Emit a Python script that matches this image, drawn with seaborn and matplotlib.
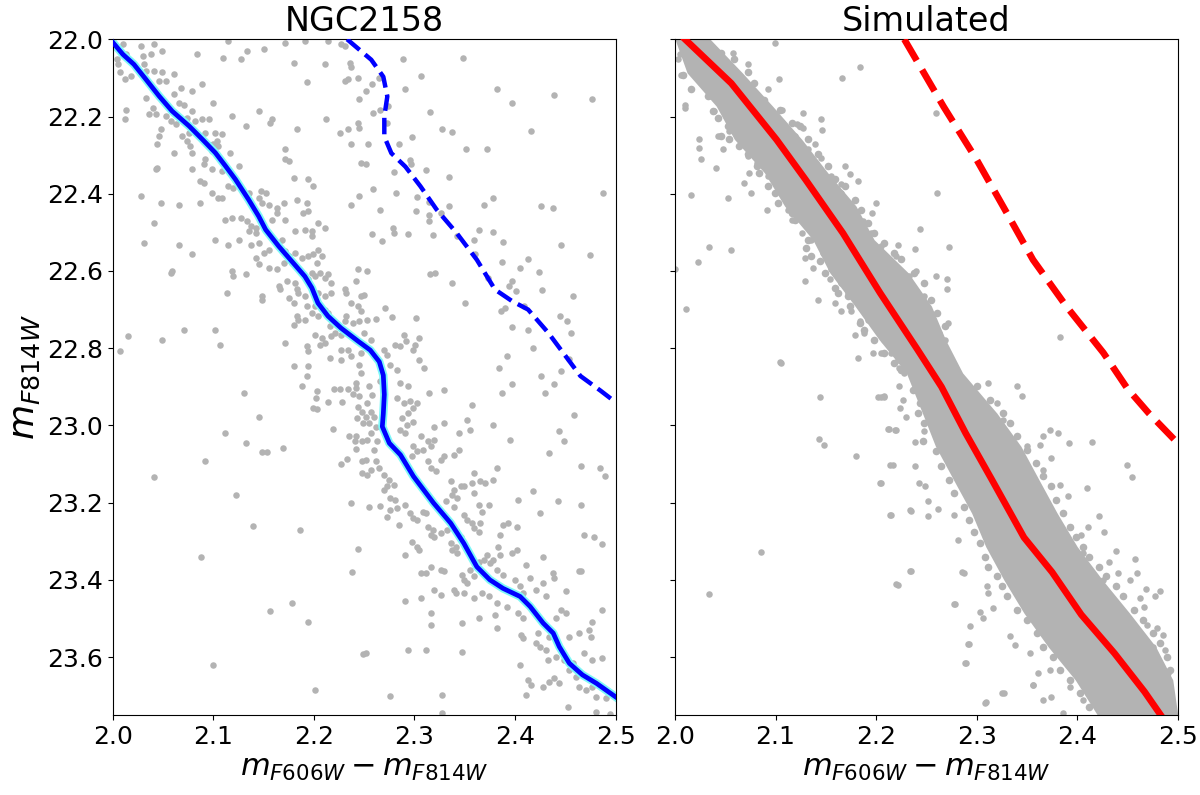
import matplotlib
matplotlib.use("Agg")
import matplotlib.pyplot as plt
import seaborn as sns

# ---------------- data ----------------
panel_titles = ["NGC2158", "Simulated"]
x_ticks = [2.0, 2.1, 2.2, 2.3, 2.4, 2.5]
y_ticks = [22.0, 22.2, 22.4, 22.6, 22.8, 23.0, 23.2, 23.4, 23.6]
x_label = "$m_{F606W} - m_{F814W}$"
y_label = "$m_{F814W}$"

# NGC2158 fiducial line (solid) and binary sequence (dashed)
ngc_ridge_x = [2.000, 2.010, 2.021, 2.033, 2.046, 2.059, 2.076, 2.089, 2.102, 2.112, 2.122, 2.135,
               2.145, 2.152, 2.165, 2.178, 2.191, 2.198, 2.204, 2.214, 2.227, 2.244, 2.256, 2.265,
               2.269, 2.270, 2.269, 2.268, 2.275, 2.286, 2.299, 2.319, 2.336, 2.349, 2.362, 2.375,
               2.388, 2.405, 2.415, 2.428, 2.438, 2.444, 2.454, 2.467, 2.481, 2.500]
ngc_ridge_y = [22.008, 22.039, 22.065, 22.104, 22.147, 22.186, 22.225, 22.259, 22.294, 22.328, 22.363, 22.415,
               22.458, 22.493, 22.536, 22.575, 22.614, 22.644, 22.683, 22.717, 22.748, 22.782, 22.805, 22.835,
               22.870, 22.920, 22.970, 23.003, 23.046, 23.076, 23.132, 23.201, 23.253, 23.305, 23.366, 23.400,
               23.422, 23.443, 23.469, 23.512, 23.538, 23.573, 23.616, 23.646, 23.668, 23.703]
ngc_binary_x = [2.233, 2.257, 2.269, 2.273, 2.270, 2.270, 2.277, 2.291, 2.306, 2.322, 2.342, 2.362,
                2.380, 2.397, 2.413, 2.433, 2.453, 2.465, 2.485, 2.500]
ngc_binary_y = [22.000, 22.053, 22.097, 22.148, 22.200, 22.252, 22.295, 22.330, 22.381, 22.441, 22.502, 22.571,
                22.648, 22.678, 22.700, 22.760, 22.830, 22.872, 22.910, 22.940]

# Simulated fiducial line and binary sequence
sim_ridge_x = [2.010, 2.056, 2.101, 2.130, 2.167, 2.204, 2.241, 2.265, 2.289, 2.315, 2.347, 2.375,
               2.404, 2.437, 2.467, 2.483]
sim_ridge_y = [22.000, 22.114, 22.260, 22.364, 22.502, 22.657, 22.803, 22.900, 23.020, 23.140, 23.290, 23.380,
               23.490, 23.590, 23.690, 23.750]
sim_binary_x = [2.228, 2.267, 2.300, 2.330, 2.356, 2.389, 2.426, 2.450, 2.471, 2.500]
sim_binary_y = [22.000, 22.174, 22.312, 22.450, 22.571, 22.691, 22.812, 22.905, 22.968, 23.046]

# NGC2158 observed stars
ngc_x = [
    2.010, 2.028, 2.041, 2.013, 2.004, 2.030, 2.038, 2.049, 2.084, 2.110, 2.127, 2.133, 2.150, 2.171, 2.180,
    2.211, 2.231, 2.236, 2.237, 2.115, 2.191, 2.214, 2.227, 2.007, 2.005, 2.012, 2.018, 2.031, 2.033, 2.041,
    2.049, 2.061, 2.053, 2.046, 2.068, 2.079, 2.089, 2.061, 2.033, 2.040, 2.066, 2.071, 2.079, 2.100, 2.013,
    2.012, 2.036, 2.043, 2.053, 2.058, 2.063, 2.074, 2.082, 2.089, 2.096, 2.119, 2.145, 2.158, 2.156, 2.132,
    2.183, 2.212, 2.226, 2.234, 2.244, 2.245, 2.237, 2.193, 2.231, 2.234, 2.244, 2.245, 2.048, 2.046, 2.044,
    2.069, 2.076, 2.074, 2.077, 2.079, 2.061, 2.092, 2.102, 2.109, 2.100, 2.104, 2.105, 2.099, 2.117, 2.171,
    2.171, 2.175, 2.092, 2.091, 2.099, 2.079, 2.044, 2.043, 2.109, 2.125, 2.180, 2.194, 2.199, 2.247, 2.087,
    2.091, 2.115, 2.120, 2.099, 2.105, 2.109, 2.135, 2.147, 2.152, 2.145, 2.148, 2.155, 2.163, 2.170, 2.183,
    2.193, 2.189, 2.194, 2.237, 2.245, 2.028, 2.048, 2.066, 2.087, 2.112, 2.119, 2.127, 2.133, 2.137, 2.142,
    2.135, 2.142, 2.158, 2.163, 2.171, 2.181, 2.191, 2.198, 2.198, 2.204, 2.211, 2.041, 2.031, 2.066, 2.079,
    2.102, 2.115, 2.125, 2.137, 2.145, 2.150, 2.155, 2.165, 2.168, 2.171, 2.175, 2.181, 2.188, 2.194, 2.199,
    2.204, 2.203, 2.208, 2.142, 2.145, 2.155, 2.163, 2.170, 2.178, 2.058, 2.059, 2.119, 2.132, 2.120, 2.165,
    2.166, 2.173, 2.181, 2.183, 2.184, 2.194, 2.198, 2.201, 2.206, 2.211, 2.214, 2.217, 2.217, 2.211, 2.204,
    2.191, 2.193, 2.198, 2.204, 2.231, 2.232, 2.237, 2.242, 2.244, 2.244, 2.247, 2.247, 2.114, 2.148, 2.148,
    2.175, 2.180, 2.183, 2.184, 2.180, 2.191, 2.201, 2.211, 2.214, 2.216, 2.221, 2.227, 2.231, 2.232, 2.239,
    2.245, 2.201, 2.208, 2.211, 2.206, 2.217, 2.227, 2.171, 2.193, 2.194, 2.216, 2.227, 2.234, 2.237, 2.245,
    2.247, 2.180, 2.194, 2.193, 2.247, 2.071, 2.102, 2.107, 2.049, 2.015, 2.007,
    2.289, 2.348, 2.306, 2.258, 2.252, 2.265, 2.291, 2.382, 2.397, 2.439, 2.477, 2.315, 2.259, 2.266, 2.274,
    2.273, 2.327, 2.337, 2.416, 2.298, 2.254, 2.285, 2.351, 2.372, 2.296, 2.297, 2.252, 2.280, 2.311, 2.334,
    2.487, 2.259, 2.282, 2.303, 2.314, 2.378, 2.369, 2.426, 2.438, 2.266, 2.302, 2.314, 2.326, 2.334, 2.314,
    2.258, 2.279, 2.280, 2.294, 2.268, 2.318, 2.342, 2.359, 2.364, 2.378, 2.388, 2.446, 2.475, 2.360, 2.387,
    2.405, 2.413, 2.424, 2.253, 2.315, 2.320, 2.337, 2.373, 2.394, 2.397, 2.401, 2.427, 2.458, 2.250, 2.350,
    2.386, 2.390, 2.409, 2.271, 2.253, 2.262, 2.278, 2.302, 2.445, 2.452, 2.456, 2.397, 2.413, 2.418, 2.392,
    2.384, 2.426, 2.446, 2.454, 2.250, 2.257, 2.290, 2.304, 2.281, 2.286, 2.292, 2.301, 2.299, 2.270, 2.273,
    2.276, 2.283, 2.304, 2.309,
    2.188, 2.130, 2.203, 2.202, 2.220, 2.226, 2.234, 2.242, 2.242, 2.239, 2.245, 2.214, 2.228, 2.199, 2.203,
    2.244, 2.248, 2.243, 2.249, 2.145, 2.219, 2.112, 2.132, 2.148, 2.153, 2.169, 2.235, 2.242, 2.241, 2.248,
    2.242, 2.233, 2.227, 2.248, 2.248, 2.092, 2.041, 2.123, 2.237, 2.139, 2.186, 2.244, 2.088, 2.238, 2.178,
    2.156, 2.194, 2.249, 2.100, 2.201,
    2.255, 2.258, 2.253, 2.257, 2.252, 2.260, 2.255, 2.262, 2.257, 2.253, 2.263, 2.260, 2.252, 2.262, 2.257,
    2.265, 2.270, 2.253, 2.275, 2.273, 2.280, 2.270, 2.276, 2.281, 2.255, 2.266, 2.273, 2.276, 2.283, 2.285,
    2.291, 2.291, 2.296, 2.299, 2.303, 2.308, 2.311, 2.313, 2.316, 2.319, 2.318, 2.298, 2.303, 2.304, 2.326,
    2.332, 2.336, 2.337, 2.341, 2.342, 2.346, 2.306, 2.311, 2.316, 2.326, 2.329, 2.339, 2.347, 2.349, 2.352,
    2.359, 2.355, 2.362, 2.364, 2.369, 2.372, 2.375, 2.378, 2.382, 2.385, 2.388, 2.397, 2.402, 2.400, 2.405,
    2.408, 2.415, 2.421, 2.428, 2.431, 2.438, 2.439, 2.446, 2.451, 2.441, 2.451, 2.464, 2.319, 2.326, 2.341,
    2.349, 2.359, 2.367, 2.374, 2.382, 2.392, 2.291, 2.306, 2.316, 2.316, 2.347, 2.364, 2.380, 2.382, 2.403,
    2.408, 2.406, 2.408, 2.421, 2.425, 2.431, 2.434, 2.423, 2.433, 2.441, 2.449, 2.458, 2.454, 2.464, 2.474,
    2.477, 2.486, 2.469, 2.477, 2.486, 2.476, 2.405, 2.413, 2.416, 2.428, 2.434, 2.439, 2.444, 2.454, 2.461,
    2.464, 2.471, 2.477, 2.481, 2.490, 2.411, 2.453, 2.481, 2.494, 2.490, 2.294, 2.311, 2.347, 2.252, 2.276,
    2.327, 2.327,
    2.266, 2.286, 2.294, 2.314, 2.329, 2.283, 2.290, 2.296, 2.303, 2.299, 2.294, 2.288, 2.299, 2.293, 2.286,
    2.291, 2.306, 2.313, 2.319, 2.316, 2.299, 2.303, 2.308, 2.298, 2.313, 2.316, 2.321, 2.326, 2.329, 2.339,
    2.344, 2.329, 2.319, 2.344, 2.352, 2.357, 2.355, 2.378, 2.395, 2.387, 2.397, 2.430, 2.439, 2.459, 2.444,
    2.449, 2.434, 2.382, 2.359, 2.336, 2.339, 2.346, 2.349, 2.337, 2.342, 2.331, 2.339, 2.357, 2.365, 2.370,
    2.378, 2.359, 2.364, 2.374, 2.367, 2.349, 2.352, 2.357, 2.359, 2.364, 2.365, 2.385, 2.388, 2.393, 2.402,
    2.383, 2.403, 2.418, 2.425, 2.443, 2.466, 2.466, 2.484, 2.489, 2.469, 2.479, 2.486, 2.428, 2.411, 2.466,
]
ngc_y = [
    22.013, 22.017, 22.013, 22.039, 22.052, 22.043, 22.039, 22.030, 22.039, 22.048, 22.052, 22.030, 22.026, 22.010, 22.061,
    22.065, 22.017, 22.061, 22.073, 22.004, 22.004, 22.004, 22.013, 22.086, 22.065, 22.104, 22.095, 22.065, 22.082, 22.082,
    22.086, 22.091, 22.108, 22.108, 22.125, 22.134, 22.117, 22.143, 22.151, 22.177, 22.164, 22.169, 22.186, 22.164, 22.182,
    22.207, 22.194, 22.194, 22.199, 22.212, 22.220, 22.203, 22.212, 22.207, 22.207, 22.199, 22.186, 22.207, 22.216, 22.225,
    22.233, 22.207, 22.242, 22.233, 22.216, 22.229, 22.272, 22.111, 22.108, 22.104, 22.099, 22.154, 22.233, 22.251, 22.272,
    22.251, 22.242, 22.264, 22.277, 22.294, 22.294, 22.242, 22.242, 22.246, 22.272, 22.264, 22.277, 22.290, 22.294, 22.285,
    22.311, 22.315, 22.311, 22.324, 22.337, 22.337, 22.333, 22.337, 22.341, 22.328, 22.359, 22.363, 22.380, 22.320, 22.367,
    22.372, 22.380, 22.385, 22.398, 22.411, 22.411, 22.398, 22.393, 22.398, 22.411, 22.424, 22.428, 22.436, 22.424, 22.415,
    22.424, 22.449, 22.445, 22.428, 22.406, 22.406, 22.424, 22.428, 22.424, 22.467, 22.462, 22.462, 22.471, 22.484, 22.488,
    22.497, 22.501, 22.467, 22.449, 22.467, 22.497, 22.493, 22.497, 22.510, 22.475, 22.488, 22.475, 22.527, 22.532, 22.557,
    22.519, 22.532, 22.519, 22.532, 22.527, 22.553, 22.545, 22.536, 22.519, 22.549, 22.562, 22.553, 22.566, 22.562, 22.557,
    22.545, 22.579, 22.562, 22.566, 22.583, 22.592, 22.596, 22.579, 22.579, 22.605, 22.601, 22.601, 22.609, 22.614, 22.640,
    22.648, 22.627, 22.631, 22.648, 22.657, 22.622, 22.605, 22.614, 22.605, 22.618, 22.609, 22.631, 22.657, 22.666, 22.657,
    22.666, 22.691, 22.709, 22.717, 22.648, 22.657, 22.683, 22.627, 22.596, 22.691, 22.704, 22.666, 22.657, 22.666, 22.674,
    22.670, 22.683, 22.717, 22.726, 22.739, 22.726, 22.691, 22.700, 22.709, 22.743, 22.761, 22.765, 22.730, 22.717, 22.735,
    22.730, 22.765, 22.774, 22.787, 22.791, 22.769, 22.804, 22.787, 22.795, 22.808, 22.825, 22.830, 22.804, 22.821, 22.843,
    22.864, 22.847, 22.847, 22.873, 22.812, 22.752, 22.752, 22.791, 22.778, 22.769, 22.808,
    22.052, 22.049, 22.095, 22.117, 22.134, 22.099, 22.128, 22.130, 22.164, 22.145, 22.154, 22.188, 22.192, 22.183, 22.173,
    22.216, 22.233, 22.240, 22.238, 22.252, 22.270, 22.272, 22.285, 22.285, 22.313, 22.324, 22.324, 22.344, 22.339, 22.357,
    22.398, 22.389, 22.398, 22.408, 22.422, 22.411, 22.430, 22.432, 22.437, 22.441, 22.445, 22.455, 22.449, 22.432, 22.471,
    22.503, 22.490, 22.501, 22.504, 22.522, 22.506, 22.510, 22.519, 22.495, 22.499, 22.525, 22.533, 22.559, 22.557, 22.577,
    22.592, 22.568, 22.602, 22.599, 22.608, 22.605, 22.631, 22.618, 22.640, 22.627, 22.653, 22.650, 22.666, 22.661, 22.683,
    22.704, 22.696, 22.691, 22.697, 22.726, 22.724, 22.719, 22.723, 22.717, 22.730, 22.761, 22.745, 22.754, 22.799, 22.821,
    22.851, 22.873, 22.860, 22.828, 22.761, 22.778, 22.767, 22.774, 22.791, 22.795, 22.782, 22.791, 22.804, 22.804, 22.817,
    22.843, 22.856, 22.830, 22.851,
    22.897, 22.916, 22.912, 22.929, 22.905, 22.905, 22.905, 22.890, 22.903, 22.918, 22.923, 22.939, 22.939, 22.955, 22.958,
    22.952, 22.965, 22.981, 22.994, 22.979, 23.009, 23.019, 23.046, 23.069, 23.069, 23.059, 23.027, 23.027, 23.040, 23.040,
    23.061, 23.088, 23.101, 23.091, 23.123, 23.091, 23.133, 23.181, 23.200, 23.260, 23.271, 23.319, 23.340, 23.380, 23.459,
    23.480, 23.510, 23.592, 23.621, 23.685,
    22.899, 22.920, 22.942, 22.964, 22.977, 22.977, 22.994, 23.003, 23.020, 23.037, 23.041, 23.063, 23.089, 23.093, 23.115,
    23.111, 23.128, 23.128, 23.141, 23.158, 23.154, 23.167, 23.188, 23.193, 23.212, 23.208, 23.236, 23.219, 23.214, 23.257,
    23.206, 23.335, 23.227, 23.240, 23.245, 23.223, 23.227, 23.262, 23.283, 23.288, 23.270, 23.301, 23.314, 23.322, 23.279,
    23.270, 23.305, 23.322, 23.314, 23.331, 23.288, 23.383, 23.383, 23.366, 23.374, 23.378, 23.426, 23.387, 23.400, 23.409,
    23.391, 23.374, 23.366, 23.353, 23.348, 23.335, 23.357, 23.348, 23.374, 23.335, 23.387, 23.331, 23.322, 23.400, 23.417,
    23.435, 23.396, 23.426, 23.409, 23.443, 23.383, 23.396, 23.478, 23.486, 23.499, 23.430, 23.378, 23.426, 23.439, 23.435,
    23.435, 23.448, 23.435, 23.443, 23.461, 23.469, 23.456, 23.448, 23.486, 23.517, 23.512, 23.499, 23.491, 23.525, 23.486,
    23.499, 23.543, 23.551, 23.564, 23.573, 23.582, 23.547, 23.538, 23.607, 23.599, 23.607, 23.616, 23.547, 23.538, 23.530,
    23.508, 23.478, 23.590, 23.607, 23.603, 23.547, 23.620, 23.659, 23.672, 23.677, 23.664, 23.655, 23.668, 23.633, 23.651,
    23.677, 23.685, 23.677, 23.703, 23.685, 23.698, 23.729, 23.741, 23.748, 23.707, 23.582, 23.582, 23.586, 23.590, 23.701,
    23.698, 23.746,
    22.886, 22.890, 22.899, 22.916, 22.907, 22.929, 22.942, 22.938, 22.942, 22.955, 22.968, 22.981, 22.990, 22.998, 23.011,
    23.020, 23.028, 23.041, 23.037, 23.054, 23.054, 23.067, 23.063, 23.080, 23.093, 23.111, 23.119, 23.089, 23.080, 23.076,
    23.063, 22.994, 23.003, 23.020, 22.985, 22.946, 23.011, 22.998, 23.037, 22.916, 22.892, 22.916, 22.894, 22.972, 23.015,
    23.041, 23.072, 23.111, 23.124, 23.145, 23.167, 23.158, 23.158, 23.180, 23.188, 23.197, 23.210, 23.149, 23.145, 23.149,
    23.141, 23.175, 23.206, 23.206, 23.223, 23.232, 23.245, 23.253, 23.266, 23.275, 23.253, 23.283, 23.257, 23.253, 23.262,
    23.314, 23.193, 23.171, 23.227, 23.197, 23.206, 23.106, 23.111, 23.132, 23.283, 23.288, 23.308, 23.340, 23.361, 23.377,
]

# Simulated stars: dense core of the main sequence (left/right edge per magnitude)
sim_core_y = [22.000, 22.087, 22.173, 22.259, 22.346, 22.432, 22.519, 22.605, 22.691, 22.778, 22.864,
              22.968, 23.054, 23.141, 23.227, 23.314, 23.400, 23.486, 23.573, 23.659, 23.750]
sim_core_left = [2.000, 2.012, 2.041, 2.059, 2.089, 2.109, 2.137, 2.154, 2.179, 2.203, 2.230,
                 2.246, 2.259, 2.277, 2.295, 2.309, 2.327, 2.347, 2.371, 2.398, 2.420]
sim_core_right = [2.035, 2.067, 2.097, 2.126, 2.152, 2.180, 2.198, 2.232, 2.255, 2.269, 2.286,
                  2.320, 2.344, 2.362, 2.380, 2.400, 2.425, 2.452, 2.478, 2.495, 2.500]

# Simulated stars: ragged edges of the core
sim_edge_x = [
    2.008, 2.016, 2.033, 2.038, 2.043, 2.053, 2.046, 2.054, 2.064, 2.073, 2.082, 2.084, 2.092, 2.099, 2.102,
    2.116, 2.119, 2.132, 2.130, 2.135, 2.144, 2.149, 2.159, 2.162, 2.172, 2.174, 2.184, 2.188, 2.198, 2.208,
    2.218, 2.225,
    2.046, 2.059, 2.073, 2.079, 2.089, 2.104, 2.116, 2.124, 2.132, 2.142, 2.152, 2.159, 2.169, 2.179, 2.185,
    2.192, 2.198, 2.208, 2.218, 2.225, 2.238, 2.248, 2.255, 2.261, 2.268,
    2.237, 2.244, 2.242, 2.248, 2.247, 2.260, 2.265, 2.272, 2.277, 2.287, 2.292, 2.297, 2.303, 2.308, 2.311,
    2.320, 2.325, 2.330, 2.340, 2.350, 2.360, 2.366, 2.376, 2.383, 2.393, 2.403, 2.412,
    2.300, 2.313, 2.326, 2.333, 2.340, 2.350, 2.359, 2.366, 2.374, 2.379, 2.386, 2.393, 2.399, 2.406, 2.412,
    2.422, 2.429, 2.439, 2.446, 2.456, 2.465, 2.475, 2.482, 2.489, 2.492,
]
sim_edge_y = [
    22.093, 22.130, 22.147, 22.186, 22.203, 22.225, 22.251, 22.259, 22.277, 22.298, 22.328, 22.346, 22.380, 22.398, 22.424,
    22.449, 22.467, 22.519, 22.540, 22.562, 22.575, 22.605, 22.644, 22.657, 22.666, 22.691, 22.735, 22.752, 22.778, 22.812,
    22.838, 22.856,
    22.035, 22.052, 22.086, 22.112, 22.156, 22.182, 22.216, 22.225, 22.259, 22.298, 22.328, 22.363, 22.380, 22.415, 22.441,
    22.475, 22.501, 22.527, 22.553, 22.570, 22.605, 22.631, 22.674, 22.709, 22.743,
    22.907, 22.942, 22.968, 22.994, 23.041, 23.067, 23.106, 23.141, 23.175, 23.210, 23.245, 23.275, 23.305, 23.340, 23.366,
    23.391, 23.417, 23.443, 23.478, 23.504, 23.538, 23.573, 23.599, 23.633, 23.659, 23.694, 23.728,
    22.899, 22.933, 22.968, 22.994, 23.028, 23.063, 23.098, 23.132, 23.158, 23.193, 23.227, 23.262, 23.288, 23.314, 23.340,
    23.366, 23.391, 23.417, 23.443, 23.478, 23.504, 23.538, 23.564, 23.599, 23.633,
]

# Simulated stars: individual stars around the core and outliers
sim_x = [
    2.099, 2.184, 2.166, 2.103, 2.006, 2.010, 2.010, 2.046, 2.058, 2.073, 2.092, 2.106, 2.127, 2.145, 2.146,
    2.127, 2.121, 2.260, 2.024, 2.024, 2.026, 2.041, 2.048, 2.043, 2.054, 2.074, 2.069, 2.016, 2.053, 2.091,
    2.076, 2.139, 2.145, 2.169, 2.174, 2.182, 2.165, 2.147, 2.200, 2.196, 2.261, 2.244, 2.239, 2.222, 2.220,
    2.260, 2.270, 2.270, 2.240, 2.233, 2.034, 2.056, 2.023, 2.000, 2.011, 2.129, 2.137, 2.129, 2.154, 2.142,
    2.159, 2.165, 2.175, 2.184, 2.179, 2.188, 2.197, 2.182, 2.205, 2.104, 2.223, 2.228, 2.271, 2.268, 2.248,
    2.005, 2.003, 2.036, 2.039, 2.051, 2.077, 2.073, 2.082, 2.092, 2.102, 2.112, 2.116, 2.126, 2.135, 2.147,
    2.155, 2.165, 2.172, 2.192, 2.202, 2.208, 2.215, 2.222,
    2.069, 2.082, 2.092, 2.106, 2.119, 2.132, 2.140, 2.155, 2.165, 2.175, 2.187, 2.195, 2.205, 2.213, 2.222,
    2.232, 2.245, 2.255, 2.263, 2.268, 2.383, 2.272, 2.105,
    2.202, 2.208, 2.223, 2.227, 2.224, 2.230, 2.212, 2.219, 2.239, 2.248, 2.214, 2.239, 2.204, 2.243, 2.249,
    2.252, 2.214, 2.234, 2.252, 2.262, 2.277, 2.281, 2.234, 2.220, 2.285, 2.277, 2.293, 2.291, 2.288, 2.303,
    2.306, 2.316, 2.310, 2.311, 2.333, 2.338, 2.325, 2.308, 2.356, 2.366, 2.374, 2.386, 2.353, 2.361, 2.373,
    2.311, 2.340, 2.345, 2.366, 2.373, 2.381, 2.392, 2.415, 2.363, 2.374, 2.449, 2.454, 2.410, 2.383, 2.391,
    2.422, 2.411, 2.404, 2.427, 2.439, 2.457, 2.459, 2.432, 2.441, 2.468, 2.482, 2.477, 2.462, 2.466, 2.479,
    2.485, 2.469, 2.475, 2.487, 2.490, 2.482, 2.452, 2.426, 2.406, 2.393, 2.366, 2.350, 2.326, 2.320, 2.475,
    2.489, 2.426, 2.406, 2.393,
    2.144, 2.143, 2.148, 2.180, 2.205, 2.208, 2.213, 2.220, 2.217, 2.205, 2.215, 2.235, 2.086, 2.034, 2.235,
    2.222, 2.278, 2.287, 2.292, 2.289, 2.309, 2.327, 2.356,
]
sim_y = [
    22.009, 22.071, 22.101, 22.104, 22.093, 22.169, 22.177, 22.039, 22.035, 22.065, 22.130, 22.183, 22.190, 22.206, 22.235,
    22.229, 22.220, 22.192, 22.258, 22.281, 22.311, 22.333, 22.283, 22.251, 22.238, 22.346, 22.372, 22.404, 22.411, 22.443,
    22.399, 22.272, 22.307, 22.328, 22.350, 22.367, 22.376, 22.404, 22.424, 22.449, 22.399, 22.491, 22.543, 22.532, 22.562,
    22.614, 22.622, 22.648, 22.601, 22.614, 22.538, 22.546, 22.577, 22.596, 22.698, 22.566, 22.592, 22.627, 22.622, 22.674,
    22.683, 22.704, 22.704, 22.730, 22.767, 22.761, 22.812, 22.825, 22.812, 22.837, 22.851, 22.864, 22.735, 22.778, 22.666,
    22.039, 22.052, 22.147, 22.186, 22.199, 22.277, 22.303, 22.320, 22.354, 22.393, 22.441, 22.467, 22.501, 22.519, 22.553,
    22.596, 22.631, 22.657, 22.726, 22.752, 22.778, 22.812, 22.830,
    22.112, 22.147, 22.182, 22.216, 22.251, 22.285, 22.320, 22.354, 22.398, 22.432, 22.471, 22.501, 22.536, 22.570, 22.605,
    22.640, 22.683, 22.726, 22.761, 22.804, 22.772, 22.538, 22.838,
    22.926, 22.925, 22.899, 22.933, 22.955, 22.977, 23.009, 23.011, 23.044, 23.015, 23.102, 23.104, 23.149, 23.149, 23.156,
    23.197, 23.232, 23.220, 23.234, 23.217, 23.232, 23.298, 23.377, 23.410, 23.380, 23.462, 23.519, 23.566, 23.614, 23.482,
    23.499, 23.474, 23.417, 23.435, 23.545, 23.569, 23.694, 23.718, 23.672, 23.711, 23.703, 23.746, 23.590, 23.640, 23.633,
    22.890, 22.897, 22.925, 23.027, 23.011, 23.020, 23.046, 23.043, 23.050, 23.085, 23.102, 23.134, 23.162, 23.154, 23.184,
    23.234, 23.262, 23.283, 23.275, 23.324, 23.346, 23.381, 23.353, 23.381, 23.424, 23.430, 23.443, 23.448, 23.469, 23.525,
    23.543, 23.517, 23.573, 23.582, 23.642, 23.659, 23.400, 23.400, 23.331, 23.262, 23.115, 23.054, 22.985, 22.942, 23.711,
    23.703, 23.737, 23.711, 23.677,
    22.926, 23.035, 23.050, 23.080, 22.926, 22.926, 23.009, 23.011, 23.102, 23.149, 23.232, 23.221, 23.327, 23.436, 23.377,
    23.412, 23.462, 23.381, 23.566, 23.614, 23.716, 23.694, 23.672,
]

# ---------------- styling ----------------
STAR_GRAY = "#b3b3b3"
TICK_FS = 18
LABEL_FS = 22
TITLE_FS = 24

fig = plt.figure(figsize=(12, 7.95), dpi=100)
ax1 = fig.add_axes([0.094, 0.1006, 0.419, 0.850])
ax2 = fig.add_axes([0.5625, 0.1006, 0.419, 0.850], sharey=ax1)

# ---- left panel: NGC2158 ----
sns.scatterplot(x=ngc_x, y=ngc_y, ax=ax1, color=STAR_GRAY, s=22, linewidth=0, zorder=1)
sns.lineplot(x=ngc_ridge_x, y=ngc_ridge_y, ax=ax1, sort=False, estimator=None,
             color="#7ff7f7", linewidth=6.0, zorder=2)
sns.lineplot(x=ngc_ridge_x, y=ngc_ridge_y, ax=ax1, sort=False, estimator=None,
             color="#0000ff", linewidth=3.4, zorder=3)
sns.lineplot(x=ngc_binary_x, y=ngc_binary_y, ax=ax1, sort=False, estimator=None,
             color="#0000ff", linewidth=3.2, linestyle="--", zorder=3)

# ---- right panel: simulated ----
ax2.fill_betweenx(sim_core_y, sim_core_left, sim_core_right, color=STAR_GRAY, linewidth=0, zorder=1)
sns.scatterplot(x=sim_edge_x, y=sim_edge_y, ax=ax2, color=STAR_GRAY, s=30, linewidth=0, zorder=1)
sns.scatterplot(x=sim_x, y=sim_y, ax=ax2, color=STAR_GRAY, s=22, linewidth=0, zorder=1)
sns.lineplot(x=sim_ridge_x, y=sim_ridge_y, ax=ax2, sort=False, estimator=None,
             color="#ff0000", linewidth=4.8, zorder=3)
sns.lineplot(x=sim_binary_x, y=sim_binary_y, ax=ax2, sort=False, estimator=None,
             color="#ff0000", linewidth=4.8, linestyle="--", zorder=3)

for ax, title in zip([ax1, ax2], panel_titles):
    ax.set_xlim(x_ticks[0], x_ticks[-1])
    ax.set_xticks(x_ticks)
    ax.set_xticklabels([f"{t:.1f}" for t in x_ticks])
    ax.set_title(title, fontsize=TITLE_FS, pad=6)
    ax.set_xlabel(x_label, fontsize=LABEL_FS)
    ax.tick_params(labelsize=TICK_FS)

ax1.set_ylim(23.75, 22.0)
ax1.set_yticks(y_ticks)
ax1.set_yticklabels([f"{t:.1f}" for t in y_ticks])
ax1.set_ylabel(y_label, fontsize=LABEL_FS + 4)
ax2.set_ylabel("")
ax2.tick_params(labelleft=False)

fig.savefig("out.png", dpi=100)
